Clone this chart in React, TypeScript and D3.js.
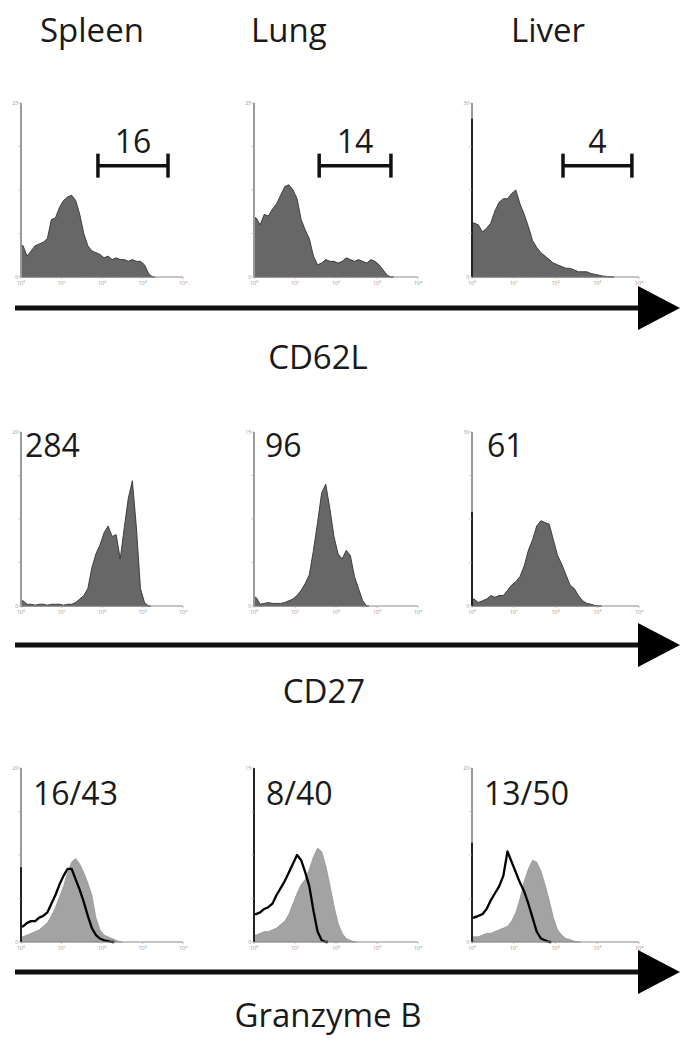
import React from 'react';
import * as d3 from 'd3';

const tissues = ['Spleen', 'Lung', 'Liver'];
const markers = ['CD62L', 'CD27', 'Granzyme B'];
const decadeTicks = ['10⁰', '10¹', '10²', '10³', '10⁴'];
const yTopLabels = [['25', '25', '30'], ['20', '15', '30'], ['20', '15', '20']];

// histogram heights (% of panel max), 0.1-decade bins from 10^0
const cd62lSpleen = [18, 12, 15, 18, 19, 20, 22, 33, 34, 40, 44, 46, 47, 44, 36, 25, 18, 15, 14, 13, 11, 12, 10, 11, 10, 10, 9, 10, 9, 9, 7, 2, 0];
const cd62lLung = [34, 30, 36, 35, 39, 42, 47, 52, 53, 50, 45, 33, 27, 22, 12, 7, 8, 10, 9, 9, 8, 9, 11, 10, 9, 10, 9, 8, 10, 9, 7, 4, 1, 0];
const cd62lLiver = [31, 30, 26, 28, 31, 38, 43, 45, 45, 48, 50, 42, 36, 29, 21, 17, 14, 12, 10, 8, 7, 6, 5, 5, 4, 3, 3, 3, 2, 1.5, 1, 0.5, 0.3, 0];
const cd27Spleen = [3, 1, 1, 0.5, 1, 1, 0.5, 1, 1, 1, 0.5, 1, 1, 2, 4, 6, 10, 22, 30, 35, 42, 46, 40, 41, 27, 45, 62, 72, 45, 10, 2, 0];
const cd27Lung = [5, 1, 1.5, 2, 1.5, 1.5, 1.5, 2, 3, 4, 6, 9, 13, 18, 32, 48, 65, 70, 56, 40, 30, 27, 32, 29, 17, 10, 3, 0];
const cd27Liver = [4, 2, 3, 4, 6, 5, 6, 6, 9, 12, 14, 17, 23, 32, 38, 46, 49, 48, 47, 38, 29, 24, 18, 12, 10, 6, 3, 1.5, 1, 0.3, 0];
const gzmbSpleen = [3, 4, 5, 6, 7, 9, 11, 15, 20, 26, 32, 40, 46, 48, 45, 40, 34, 27, 14, 7, 4, 3, 2, 1, 0];
const gzmbSpleenCtrl = [9, 11, 12, 12, 14, 15, 17, 22, 27, 33, 38, 42, 42, 36, 30, 23, 15, 8, 4, 2, 1, 0.5, 0];
const gzmbLung = [4, 5, 6, 6, 7, 8, 10, 12, 16, 22, 28, 33, 36, 42, 49, 54, 52, 44, 33, 21, 11, 5, 2, 1, 0];
const gzmbLungCtrl = [16, 17, 19, 20, 22, 27, 31, 35, 40, 45, 50, 47, 40, 32, 18, 6, 1, 0];
const gzmbLiver = [3, 3, 4, 5, 5, 6, 7, 8, 9, 12, 17, 25, 35, 42, 47, 46, 41, 33, 24, 14, 7, 4, 2, 1.5, 0.5, 0];
const gzmbLiverCtrl = [14, 15, 16, 19, 24, 28, 32, 38, 52, 46, 40, 34, 29, 22, 14, 6, 2, 1, 0];

const filledSeries = [
  [cd62lSpleen, cd62lLung, cd62lLiver],
  [cd27Spleen, cd27Lung, cd27Liver],
  [gzmbSpleen, gzmbLung, gzmbLiver],
];
const controlSeries = [gzmbSpleenCtrl, gzmbLungCtrl, gzmbLiverCtrl];
// events piled on the axis (% of panel max)
const axisSpikes = [[0, 0, 91], [0, 0, 54], [43, 100, 57]];

const cd62lGates = [[1.9, 3.63], [1.59, 3.34], [2.18, 3.83]];
const cd62lGateLabels = ['16', '14', '4'];
const cd27Labels = ['284', '96', '61'];
const gzmbLabels = ['16/43', '8/40', '13/50'];

const W = 686;
const H = 1050;
const colX = [21, 254, 472];
const colW = [162, 164, 167];
const rowTop = [103, 432, 768];
const panelH = 174;
const arrowY = [308, 645, 972];
const markerBaseline = [369, 703, 1027];
const titleX = [40, 251, 511];
const markerCx = [318, 324, 328];
const FONT = '"Open Sans", sans-serif';

function Panel({ r, c }: { r: number; c: number }) {
  const x0 = colX[c];
  const w = colW[c];
  const top = rowTop[r];
  const base = top + panelH;
  const x = d3.scaleLog().domain([1, 10000]).range([x0, x0 + w]);
  const y = d3.scaleLinear().domain([0, 100]).range([base, top]);
  const toPts = (vals: number[]) => {
    const pts: [number, number][] = [[0, vals[0]]];
    vals.forEach((v, i) => pts.push([i * 0.1 + 0.05, v]));
    pts.push([vals.length * 0.1, 0]);
    return pts;
  };
  const area = d3
    .area<[number, number]>()
    .x((d) => x(Math.pow(10, d[0])))
    .y0(base)
    .y1((d) => y(d[1]))
    .curve(d3.curveLinear);
  const line = d3
    .line<[number, number]>()
    .x((d) => x(Math.pow(10, d[0])))
    .y((d) => y(d[1]))
    .curve(d3.curveLinear);
  const filled = filledSeries[r][c];
  const light = r === 2;
  const yTicks = [0, 25, 50, 75, 100];
  const spike = axisSpikes[r][c];
  return (
    <g>
      <path
        d={area(toPts(filled)) || ''}
        fill={light ? '#a3a3a3' : '#676767'}
        stroke={light ? '#8a8a8a' : '#333'}
        strokeWidth={light ? 0.6 : 0.9}
      />
      {r === 2 && (
        <path d={line(toPts(controlSeries[c])) || ''} fill="none" stroke="#000" strokeWidth={2.3} strokeLinejoin="round" />
      )}
      <line x1={x0} x2={x0 + w} y1={base} y2={base} stroke="#8c8c8c" strokeWidth={1} />
      <line x1={x0} x2={x0} y1={top} y2={base} stroke="#9a9a9a" strokeWidth={2} />
      {spike > 0 && <line x1={x0} x2={x0} y1={y(spike)} y2={base} stroke="#222" strokeWidth={2} />}
      {yTicks.map((t) => (
        <line key={t} x1={x0 - 2.5} x2={x0} y1={y(t)} y2={y(t)} stroke="#aaa" strokeWidth={0.7} />
      ))}
      <text x={x0 - 3} y={top + 2} fontSize={5} fill="#999" textAnchor="end" fontFamily={FONT}>
        {yTopLabels[r][c]}
      </text>
      <text x={x0 - 3} y={base + 2} fontSize={5} fill="#999" textAnchor="end" fontFamily={FONT}>
        0
      </text>
      {decadeTicks.map((t, i) => (
        <g key={t}>
          <line x1={x(Math.pow(10, i))} x2={x(Math.pow(10, i))} y1={base} y2={base + 2} stroke="#aaa" strokeWidth={0.7} />
          <text x={x(Math.pow(10, i))} y={base + 8} fontSize={5.5} fill="#999" textAnchor="middle" fontFamily={FONT}>
            {t}
          </text>
        </g>
      ))}
      {r === 0 && (
        <g>
          <line
            x1={x(Math.pow(10, cd62lGates[c][0]))}
            x2={x(Math.pow(10, cd62lGates[c][1]))}
            y1={y(64)}
            y2={y(64)}
            stroke="#111"
            strokeWidth={3.5}
          />
          {cd62lGates[c].map((g, i) => (
            <line key={i} x1={x(Math.pow(10, g))} x2={x(Math.pow(10, g))} y1={y(64) - 12} y2={y(64) + 12} stroke="#111" strokeWidth={3.5} />
          ))}
          <text
            x={(x(Math.pow(10, cd62lGates[c][0])) + x(Math.pow(10, cd62lGates[c][1]))) / 2}
            y={y(71)}
            fontSize={32}
            fontFamily={FONT}
            fill="#1a1a1a"
            textAnchor="middle"
          >
            {cd62lGateLabels[c]}
          </text>
        </g>
      )}
      {r === 1 && (
        <text x={x0 + (c === 0 ? 4 : 11 + (c === 2 ? 4 : 0))} y={top + 25} fontSize={32} fontFamily={FONT} fill="#1a1a1a">
          {cd27Labels[c]}
        </text>
      )}
      {r === 2 && (
        <text x={x0 + 12} y={top + 37} fontSize={32} fontFamily={FONT} fill="#1a1a1a">
          {gzmbLabels[c]}
        </text>
      )}
    </g>
  );
}

export default function App() {
  return (
    <svg width={W} height={H} style={{ display: 'block', position: 'absolute', left: 0, top: 0, background: '#fff' }}>
      <rect width={W} height={H} fill="#fff" />
      {tissues.map((t, i) => (
        <text key={t} x={titleX[i]} y={42} fontSize={33} fontFamily={FONT} fill="#1a1a1a">
          {t}
        </text>
      ))}
      {[0, 1, 2].map((r) =>
        [0, 1, 2].map((c) => <Panel key={`${r}-${c}`} r={r} c={c} />)
      )}
      {markers.map((m, r) => (
        <g key={m}>
          <line x1={15} x2={645} y1={arrowY[r]} y2={arrowY[r]} stroke="#111" strokeWidth={5} />
          <path
            d={`M638,${arrowY[r] - 22} L680,${arrowY[r]} L638,${arrowY[r] + 22} Z`}
            fill="#000"
          />
          <text x={markerCx[r]} y={markerBaseline[r]} fontSize={33} fontFamily={FONT} fill="#1a1a1a" textAnchor="middle">
            {m}
          </text>
        </g>
      ))}
    </svg>
  );
}
